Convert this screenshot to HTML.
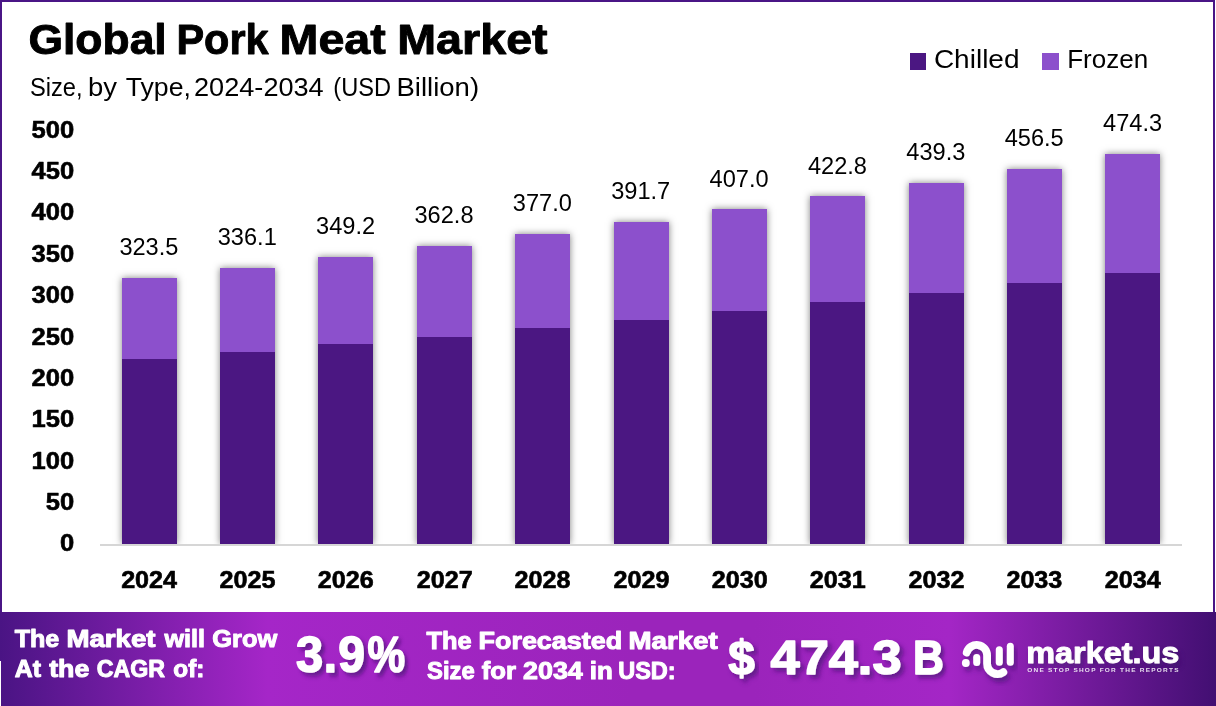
<!DOCTYPE html>
<html><head><meta charset="utf-8"><title>Global Pork Meat Market</title>
<style>
html,body{margin:0;padding:0;background:#fff;}
body{width:1216px;height:706px;position:relative;overflow:hidden;font-family:"Liberation Sans",sans-serif;}
.frame{position:absolute;left:0;top:0;width:1211px;height:612px;border:2px solid #4a1586;border-bottom:none;background:#fff;}
.banner{position:absolute;left:0;top:612px;width:1216px;height:94px;background:linear-gradient(90deg,#4a1484 0%,#a526c8 22%,#9b24bb 52%,#9b24bb 62%,#a426c6 78%,#420f72 100%);}
.axis{position:absolute;left:100px;top:544px;width:1082px;height:2px;background:#d6d6d6;}
.bar{position:absolute;width:55.0px;background:#8c50cc;box-shadow:0 0 7px rgba(0,0,0,.5);}
.bar i{position:absolute;left:0;right:0;bottom:0;background:#4b1782;}
.sw{position:absolute;top:53px;width:16.5px;height:16.5px;}
svg{position:absolute;left:0;top:0;will-change:transform;}
text{font-family:"Liberation Sans",sans-serif;white-space:pre;}
</style></head>
<body>
<div class="frame"></div>
<div class="banner"></div>
<div style="position:absolute;left:0;top:661px;width:1px;height:45px;background:#fff"></div>
<div style="position:absolute;left:0;top:0;width:1216px;height:546px;overflow:hidden">
<div class="bar" style="left:121.68px;top:277.92px;height:266.08px"><i style="top:81.15px"></i></div>
<div class="bar" style="left:220.05px;top:267.56px;height:276.44px"><i style="top:84.31px"></i></div>
<div class="bar" style="left:318.41px;top:256.78px;height:287.22px"><i style="top:87.60px"></i></div>
<div class="bar" style="left:416.77px;top:245.60px;height:298.40px"><i style="top:91.01px"></i></div>
<div class="bar" style="left:515.14px;top:233.92px;height:310.08px"><i style="top:94.58px"></i></div>
<div class="bar" style="left:613.50px;top:221.83px;height:322.17px"><i style="top:98.26px"></i></div>
<div class="bar" style="left:711.86px;top:209.24px;height:334.76px"><i style="top:102.10px"></i></div>
<div class="bar" style="left:810.23px;top:196.25px;height:347.75px"><i style="top:106.06px"></i></div>
<div class="bar" style="left:908.59px;top:182.68px;height:361.32px"><i style="top:110.20px"></i></div>
<div class="bar" style="left:1006.95px;top:168.53px;height:375.47px"><i style="top:114.52px"></i></div>
<div class="bar" style="left:1105.32px;top:153.89px;height:390.11px"><i style="top:118.98px"></i></div>
</div>
<div class="axis"></div>
<div class="sw" style="left:910px;width:15.9px;background:#4b1782"></div>
<div class="sw" style="left:1042px;background:#8c50cc"></div>
<svg width="1216" height="706" viewBox="0 0 1216 706">
<defs>
<filter id="sh" x="-10%" y="-20%" width="125%" height="150%"><feDropShadow dx="3.5" dy="3.5" stdDeviation="1.9" flood-color="#3a0a6a" flood-opacity=".6"/></filter>
<filter id="sh2" x="-10%" y="-20%" width="125%" height="160%"><feDropShadow dx="2.5" dy="4.5" stdDeviation="2.2" flood-color="#3a0a6a" flood-opacity=".55"/></filter>
</defs>
<text transform="translate(28.38 53.65) scale(1.0661 1)" font-size="41.71" font-weight="700" fill="#000" stroke="#000" stroke-width="0.9" stroke-linejoin="round">Global</text>
<text transform="translate(176.46 53.65) scale(0.9943 1)" font-size="41.71" font-weight="700" fill="#000" stroke="#000" stroke-width="0.9" stroke-linejoin="round">Pork</text>
<text transform="translate(279.51 53.65) scale(1.1189 1)" font-size="41.71" font-weight="700" fill="#000" stroke="#000" stroke-width="0.9" stroke-linejoin="round">Meat</text>
<text transform="translate(397.21 53.65) scale(1.1188 1)" font-size="41.71" font-weight="700" fill="#000" stroke="#000" stroke-width="0.9" stroke-linejoin="round">Market</text>
<text transform="translate(29.97 95.70) scale(0.9338 1)" font-size="25.36" font-weight="400" fill="#000">Size,</text>
<text transform="translate(88.02 95.70) scale(1.0841 1)" font-size="25.36" font-weight="400" fill="#000">by</text>
<text transform="translate(125.70 95.70) scale(1.0520 1)" font-size="25.36" font-weight="400" fill="#000">Type,</text>
<text transform="translate(194.03 95.70) scale(1.0693 1)" font-size="25.36" font-weight="400" fill="#000">2024-2034</text>
<text transform="translate(333.27 95.70) scale(0.9312 1)" font-size="25.36" font-weight="400" fill="#000">(USD</text>
<text transform="translate(396.43 95.70) scale(1.0859 1)" font-size="25.36" font-weight="400" fill="#000">Billion)</text>
<text transform="translate(933.88 68.00) scale(1.1181 1)" font-size="25.07" font-weight="400" fill="#000">Chilled</text>
<text transform="translate(1067.22 68.00) scale(1.0378 1)" font-size="25.07" font-weight="400" fill="#000">Frozen</text>
<text transform="translate(59.93 551.45) scale(1.0594 1)" font-size="24.14" font-weight="700" fill="#000" stroke="#000" stroke-width="0.6" stroke-linejoin="round">0</text>
<text transform="translate(45.71 510.07) scale(1.0594 1)" font-size="24.14" font-weight="700" fill="#000" stroke="#000" stroke-width="0.6" stroke-linejoin="round">50</text>
<text transform="translate(31.50 468.70) scale(1.0594 1)" font-size="24.14" font-weight="700" fill="#000" stroke="#000" stroke-width="0.6" stroke-linejoin="round">100</text>
<text transform="translate(31.50 427.32) scale(1.0594 1)" font-size="24.14" font-weight="700" fill="#000" stroke="#000" stroke-width="0.6" stroke-linejoin="round">150</text>
<text transform="translate(31.50 385.95) scale(1.0594 1)" font-size="24.14" font-weight="700" fill="#000" stroke="#000" stroke-width="0.6" stroke-linejoin="round">200</text>
<text transform="translate(31.50 344.57) scale(1.0594 1)" font-size="24.14" font-weight="700" fill="#000" stroke="#000" stroke-width="0.6" stroke-linejoin="round">250</text>
<text transform="translate(31.50 303.20) scale(1.0594 1)" font-size="24.14" font-weight="700" fill="#000" stroke="#000" stroke-width="0.6" stroke-linejoin="round">300</text>
<text transform="translate(31.50 261.82) scale(1.0594 1)" font-size="24.14" font-weight="700" fill="#000" stroke="#000" stroke-width="0.6" stroke-linejoin="round">350</text>
<text transform="translate(31.50 220.45) scale(1.0594 1)" font-size="24.14" font-weight="700" fill="#000" stroke="#000" stroke-width="0.6" stroke-linejoin="round">400</text>
<text transform="translate(31.50 179.07) scale(1.0594 1)" font-size="24.14" font-weight="700" fill="#000" stroke="#000" stroke-width="0.6" stroke-linejoin="round">450</text>
<text transform="translate(31.50 137.70) scale(1.0594 1)" font-size="24.14" font-weight="700" fill="#000" stroke="#000" stroke-width="0.6" stroke-linejoin="round">500</text>
<text transform="translate(121.13 587.50) scale(1.0876 1)" font-size="23.14" font-weight="700" fill="#000" stroke="#000" stroke-width="0.6" stroke-linejoin="round">2024</text>
<text transform="translate(119.38 255.32) scale(0.9754 1)" font-size="24.20" font-weight="400" fill="#000">323.5</text>
<text transform="translate(219.50 587.50) scale(1.0876 1)" font-size="23.14" font-weight="700" fill="#000" stroke="#000" stroke-width="0.6" stroke-linejoin="round">2025</text>
<text transform="translate(217.75 244.96) scale(0.9754 1)" font-size="24.20" font-weight="400" fill="#000">336.1</text>
<text transform="translate(317.86 587.50) scale(1.0876 1)" font-size="23.14" font-weight="700" fill="#000" stroke="#000" stroke-width="0.6" stroke-linejoin="round">2026</text>
<text transform="translate(316.11 234.18) scale(0.9754 1)" font-size="24.20" font-weight="400" fill="#000">349.2</text>
<text transform="translate(416.77 587.50) scale(1.0876 1)" font-size="23.14" font-weight="700" fill="#000" stroke="#000" stroke-width="0.6" stroke-linejoin="round">2027</text>
<text transform="translate(414.47 223.00) scale(0.9754 1)" font-size="24.20" font-weight="400" fill="#000">362.8</text>
<text transform="translate(514.59 587.50) scale(1.0876 1)" font-size="23.14" font-weight="700" fill="#000" stroke="#000" stroke-width="0.6" stroke-linejoin="round">2028</text>
<text transform="translate(512.84 211.32) scale(0.9754 1)" font-size="24.20" font-weight="400" fill="#000">377.0</text>
<text transform="translate(613.49 587.50) scale(1.0876 1)" font-size="23.14" font-weight="700" fill="#000" stroke="#000" stroke-width="0.6" stroke-linejoin="round">2029</text>
<text transform="translate(611.20 199.23) scale(0.9754 1)" font-size="24.20" font-weight="400" fill="#000">391.7</text>
<text transform="translate(711.86 587.50) scale(1.0876 1)" font-size="23.14" font-weight="700" fill="#000" stroke="#000" stroke-width="0.6" stroke-linejoin="round">2030</text>
<text transform="translate(709.56 186.64) scale(0.9754 1)" font-size="24.20" font-weight="400" fill="#000">407.0</text>
<text transform="translate(809.68 587.50) scale(1.0876 1)" font-size="23.14" font-weight="700" fill="#000" stroke="#000" stroke-width="0.6" stroke-linejoin="round">2031</text>
<text transform="translate(807.93 173.65) scale(0.9754 1)" font-size="24.20" font-weight="400" fill="#000">422.8</text>
<text transform="translate(908.58 587.50) scale(1.0876 1)" font-size="23.14" font-weight="700" fill="#000" stroke="#000" stroke-width="0.6" stroke-linejoin="round">2032</text>
<text transform="translate(906.29 160.08) scale(0.9754 1)" font-size="24.20" font-weight="400" fill="#000">439.3</text>
<text transform="translate(1006.40 587.50) scale(1.0876 1)" font-size="23.14" font-weight="700" fill="#000" stroke="#000" stroke-width="0.6" stroke-linejoin="round">2033</text>
<text transform="translate(1004.65 145.93) scale(0.9754 1)" font-size="24.20" font-weight="400" fill="#000">456.5</text>
<text transform="translate(1104.77 587.50) scale(1.0876 1)" font-size="23.14" font-weight="700" fill="#000" stroke="#000" stroke-width="0.6" stroke-linejoin="round">2034</text>
<text transform="translate(1103.02 131.29) scale(0.9754 1)" font-size="24.20" font-weight="400" fill="#000">474.3</text>
<text transform="translate(14.70 647.10) scale(1.0767 1)" font-size="23.29" font-weight="700" fill="#fff" stroke="#fff" stroke-width="1.0" stroke-linejoin="round">The</text>
<text transform="translate(66.41 647.10) scale(1.1878 1)" font-size="23.29" font-weight="700" fill="#fff" stroke="#fff" stroke-width="1.0" stroke-linejoin="round">Market</text>
<text transform="translate(164.48 647.10) scale(1.0804 1)" font-size="23.29" font-weight="700" fill="#fff" stroke="#fff" stroke-width="1.0" stroke-linejoin="round">will</text>
<text transform="translate(212.30 647.10) scale(1.0917 1)" font-size="23.29" font-weight="700" fill="#fff" stroke="#fff" stroke-width="1.0" stroke-linejoin="round">Grow</text>
<text transform="translate(14.70 677.10) scale(1.0685 1)" font-size="23.29" font-weight="700" fill="#fff" stroke="#fff" stroke-width="1.0" stroke-linejoin="round">At</text>
<text transform="translate(49.20 677.10) scale(1.1471 1)" font-size="23.29" font-weight="700" fill="#fff" stroke="#fff" stroke-width="1.0" stroke-linejoin="round">the</text>
<text transform="translate(96.70 677.10) scale(0.9956 1)" font-size="23.29" font-weight="700" fill="#fff" stroke="#fff" stroke-width="1.0" stroke-linejoin="round">CAGR</text>
<text transform="translate(173.30 677.10) scale(1.0444 1)" font-size="23.29" font-weight="700" fill="#fff" stroke="#fff" stroke-width="1.0" stroke-linejoin="round">of:</text>
<text transform="translate(295.92 671.70) scale(0.9760 1)" font-size="50.00" font-weight="700" fill="#fff" stroke="#fff" stroke-width="1.6" stroke-linejoin="round" filter="url(#sh)">3</text>
<text transform="translate(323.65 671.70) scale(0.9500 1)" font-size="50.00" font-weight="700" fill="#fff" stroke="#fff" stroke-width="1.6" stroke-linejoin="round" filter="url(#sh)">.</text>
<text transform="translate(338.24 671.70) scale(0.9600 1)" font-size="50.00" font-weight="700" fill="#fff" stroke="#fff" stroke-width="1.6" stroke-linejoin="round" filter="url(#sh)">9</text>
<text transform="translate(367.45 671.70) scale(0.8465 1)" font-size="50.00" font-weight="700" fill="#fff" stroke="#fff" stroke-width="1.6" stroke-linejoin="round" filter="url(#sh)">%</text>
<text transform="translate(426.50 649.10) scale(1.0888 1)" font-size="23.29" font-weight="700" fill="#fff" stroke="#fff" stroke-width="1.0" stroke-linejoin="round">The</text>
<text transform="translate(478.54 649.10) scale(1.1557 1)" font-size="23.29" font-weight="700" fill="#fff" stroke="#fff" stroke-width="1.0" stroke-linejoin="round">Forecasted</text>
<text transform="translate(628.51 649.10) scale(1.1878 1)" font-size="23.29" font-weight="700" fill="#fff" stroke="#fff" stroke-width="1.0" stroke-linejoin="round">Market</text>
<text transform="translate(427.00 679.10) scale(1.0167 1)" font-size="23.43" font-weight="700" fill="#fff" stroke="#fff" stroke-width="1.0" stroke-linejoin="round">Size</text>
<text transform="translate(481.70 679.10) scale(1.0967 1)" font-size="23.43" font-weight="700" fill="#fff" stroke="#fff" stroke-width="1.0" stroke-linejoin="round">for</text>
<text transform="translate(523.10 679.10) scale(1.1450 1)" font-size="23.43" font-weight="700" fill="#fff" stroke="#fff" stroke-width="1.0" stroke-linejoin="round">2034</text>
<text transform="translate(589.80 679.10) scale(1.1025 1)" font-size="23.43" font-weight="700" fill="#fff" stroke="#fff" stroke-width="1.0" stroke-linejoin="round">in</text>
<text transform="translate(618.20 679.10) scale(1.0033 1)" font-size="23.43" font-weight="700" fill="#fff" stroke="#fff" stroke-width="1.0" stroke-linejoin="round">USD:</text>
<text transform="translate(728.35 674.25) scale(0.9926 1)" font-size="48.14" font-weight="700" fill="#fff" stroke="#fff" stroke-width="1.5" stroke-linejoin="round" filter="url(#sh)">$</text>
<text transform="translate(770.55 674.25) scale(1.0872 1)" font-size="48.14" font-weight="700" fill="#fff" stroke="#fff" stroke-width="1.5" stroke-linejoin="round" filter="url(#sh)">474.3</text>
<text transform="translate(912.98 674.25) scale(0.8900 1)" font-size="48.14" font-weight="700" fill="#fff" stroke="#fff" stroke-width="1.5" stroke-linejoin="round" filter="url(#sh)">B</text>
<text transform="translate(1026.26 662.75) scale(1.0876 1)" font-size="29.81" font-weight="700" fill="#fff" stroke="#fff" stroke-width="0.9" stroke-linejoin="round" filter="url(#sh2)">market.us</text>
<text transform="translate(1027.20 672.20) scale(1.0809 1)" font-size="6.00" font-weight="700" fill="#fff" opacity="0.85" letter-spacing="1.15">ONE STOP SHOP FOR THE REPORTS</text>

<g filter="url(#sh2)" fill="none" stroke="#fff" stroke-linecap="round">
  <path d="M966.7 652.5 A10.4 10.4 0 0 1 987.1 655.4 L987.1 663.6 A10.4 10.4 0 0 0 1003.3 672.2" stroke-width="7.8"/>
  <path d="M976.7 657.6 L976.7 662.4" stroke-width="7"/>
  <path d="M999.3 649.8 L999.3 662.2" stroke-width="7"/>
  <path d="M1010.3 646.2 L1010.3 662.2" stroke-width="7"/>
  <circle cx="965.8" cy="663.0" r="3.9" fill="#fff" stroke="none"/>
</g>

</svg>
</body></html>
